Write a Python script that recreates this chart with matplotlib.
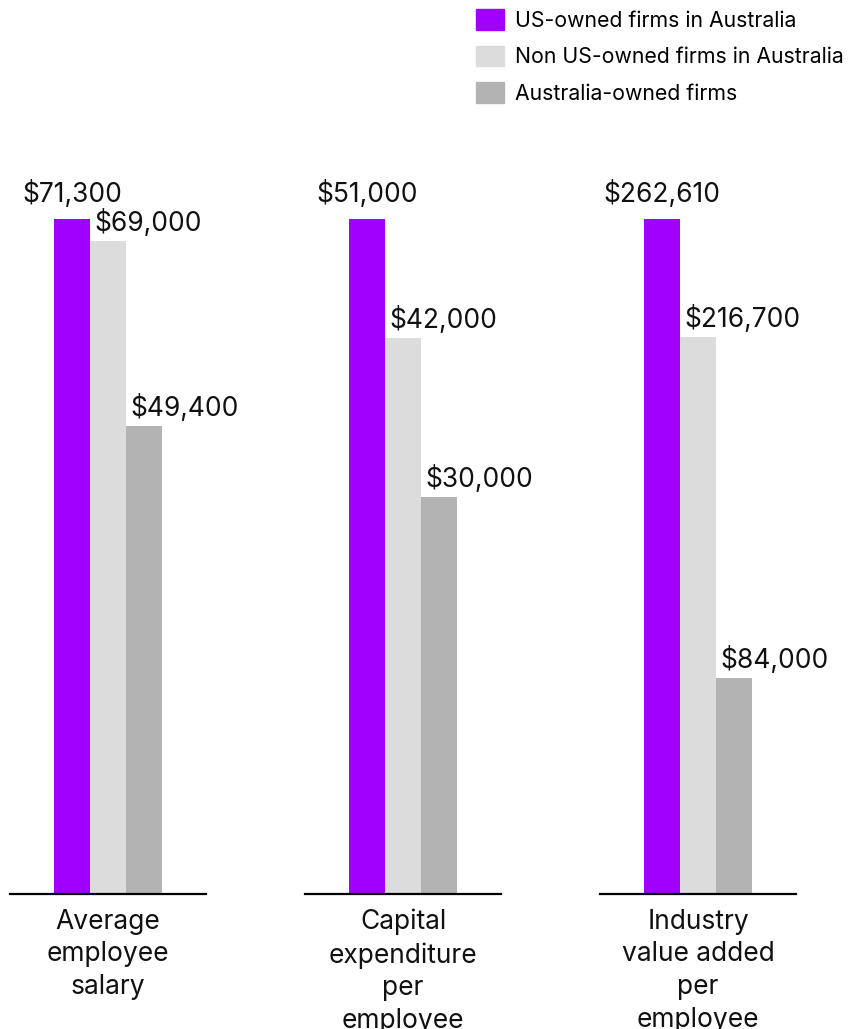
import matplotlib
matplotlib.use("Agg")
import matplotlib.pyplot as plt
from matplotlib.patches import Patch

plt.rcParams["font.family"] = ["Inter", "DejaVu Sans"]

metrics = ["Average\nemployee\nsalary", "Capital\nexpenditure\nper\nemployee",
           "Industry\nvalue added\nper\nemployee"]
series = ["US-owned firms in Australia", "Non US-owned firms in Australia",
          "Australia-owned firms"]
us_owned = [71300, 51000, 262610]
non_us_owned = [69000, 42000, 216700]
aus_owned = [49400, 30000, 84000]
colors = ["#A100FF", "#DCDCDC", "#B3B3B3"]

W, H = 859, 1029
fig = plt.figure(figsize=(W / 100, H / 100), dpi=100)

base_px, top_px = 894, 219
for i, label in enumerate(metrics):
    left_px = 10 + i * 295
    ax = fig.add_axes([left_px / W, (H - base_px) / H, 196 / W, (base_px - top_px) / H])
    vals = [us_owned[i], non_us_owned[i], aus_owned[i]]
    ax.bar(range(3), vals, width=1.0, color=colors)
    ax.set_xlim(-1.72, 3.72)
    ax.set_ylim(0, max(vals))
    for s in ["top", "right", "left"]:
        ax.spines[s].set_visible(False)
    ax.spines["bottom"].set_linewidth(1.6)
    ax.set_xticks([])
    ax.set_yticks([])
    for j, v in enumerate(vals):
        txt = f"${v:,.0f}"
        if j == 0:
            ax.annotate(txt, (j, v), xytext=(0, 8), textcoords="offset points",
                        ha="center", va="bottom", fontsize=19, color="#111111")
        else:
            ax.annotate(txt, (j - 0.5, v), xytext=(3, 3), textcoords="offset points",
                        ha="left", va="bottom", fontsize=19, color="#111111")
    ax.text(0.5, -0.022, label, transform=ax.transAxes, ha="center", va="top",
            fontsize=19, linespacing=1.33, color="#111111")

handles = [Patch(color=c) for c in colors]
fig.legend(handles, series, loc="upper left", bbox_to_anchor=(467 / W, 1 - 1 / H),
           frameon=False, fontsize=15.3, handlelength=1.32, handleheight=1.1,
           labelspacing=0.7, handletextpad=0.55, borderaxespad=0)

fig.savefig("out.png", dpi=100)
